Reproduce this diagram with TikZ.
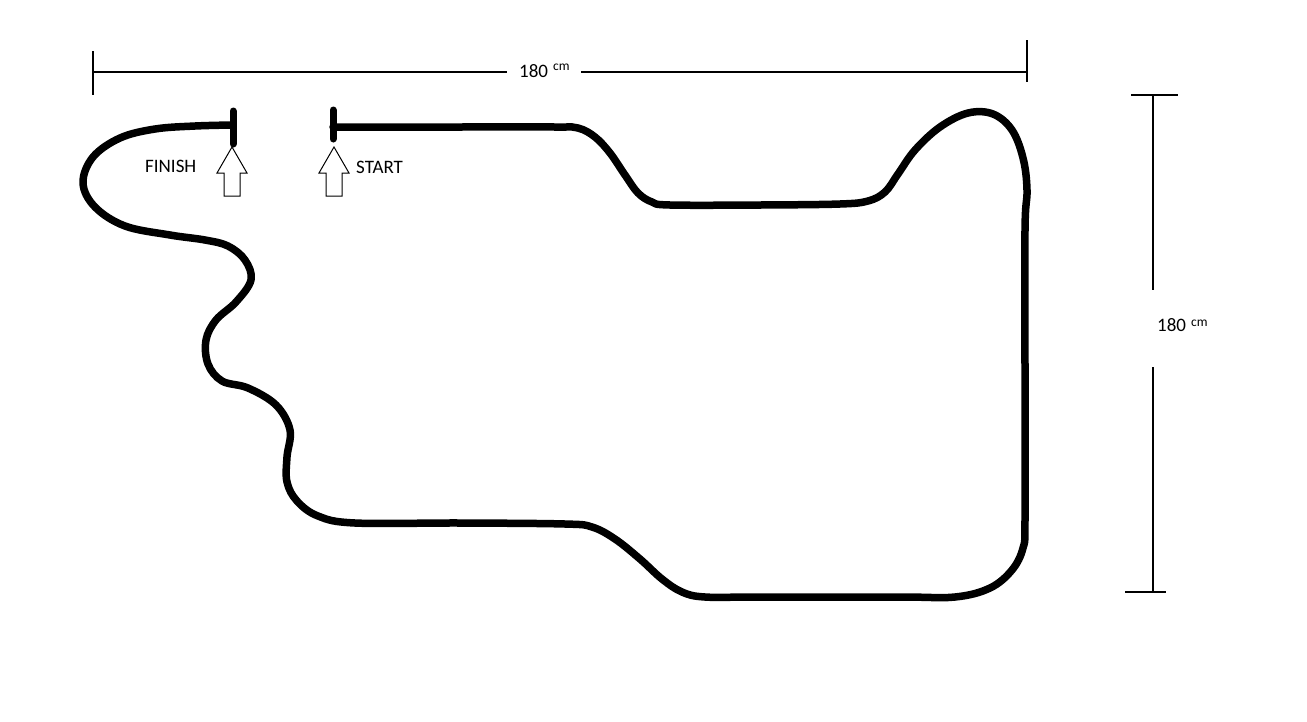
\documentclass[tikz,border=0pt]{standalone}
\usepackage{fontspec}
\setmainfont{Carlito}
\begin{document}
\begin{tikzpicture}[x=1pt,y=-1pt,
  track/.style={line width=7.5pt,line join=round,line cap=round},
  bar/.style={line width=7pt,line cap=round},
  dim/.style={line width=1.3pt},
  lbl/.style={inner sep=0pt,anchor=base west,font=\fontsize{19}{22}\selectfont},
  unit/.style={inner sep=0pt,anchor=base west,font=\fontsize{13.5}{16}\selectfont},
  blockarrow/.pic={\draw[line width=1pt,fill=white]
     (0,0) -- (15,26) -- (8,26) -- (8,49) -- (-8,49) -- (-8,26) -- (-15,26) -- cycle;}]
\useasboundingbox (0,0) rectangle (1307,721);

% horizontal dimension
\coordinate (hL) at (93,72);
\coordinate (hR) at (1027,72);
\coordinate (hLg) at (507,72);
\coordinate (hRg) at (581,72);
\draw[dim] (93,51) -- (93,95);
\draw[dim] (1027,40) -- (1027,82);
\draw[dim] (hL) -- (hLg);
\draw[dim] (hRg) -- (hR);
\node[lbl] (htxt) at (519,77) {180};
\node[unit] (hunit) at (553,70) {cm};

% vertical dimension
\coordinate (vT) at (1153,95);
\coordinate (vB) at (1153,592);
\coordinate (vTg) at (1153,290);
\coordinate (vBg) at (1153,367);
\draw[dim] (1131,95) -- (1178,95);
\draw[dim] (1125,592) -- (1166,592);
\draw[dim] (vT) -- (vTg);
\draw[dim] (vBg) -- (vB);
\node[lbl] (vtxt) at (1157,331) {180};
\node[unit] (vunit) at (1191,326) {cm};

% start / finish bars
\draw[bar] (333,110) -- (333,139);
\draw[bar] (233,111) -- (233,144);

% track
\draw[track] plot[smooth,tension=0.6] coordinates {
 (333,127) (450,127) (555,127) (578,128) (595,137) (610,153) (625,175)
 (638,193) (652,202) (670,205) (760,205) (840,204) (868,201) (885,192)
 (898,174) (915,150) (940,127) (968,113) (993,114) (1012,130) (1023,158)
 (1027,190) (1025,230) (1025,380) (1025,520) (1023,548) (1012,570)
 (990,588) (955,597) (900,597) (760,597) (705,597) (682,592) (662,579)
 (640,559) (615,539) (592,527) (565,524) (460,523) (355,523) (318,516)
 (297,501) (287,482) (287,457) (290,430) (276,405) (248,388) (222,381)
 (208,364) (206,340) (216,320) (236,302) (251,280) (245,260) (228,246)
 (205,240) (170,235) (125,226) (95,207) (83,183) (93,157) (120,138)
 (155,129) (195,126) (233,125)};

% arrows and labels
\pic at (232,147) {blockarrow};
\pic at (334,147) {blockarrow};
\node[lbl] (finish) at (145,172) {FINISH};
\node[lbl] (start) at (356,173) {START};
\end{tikzpicture}
\end{document}
